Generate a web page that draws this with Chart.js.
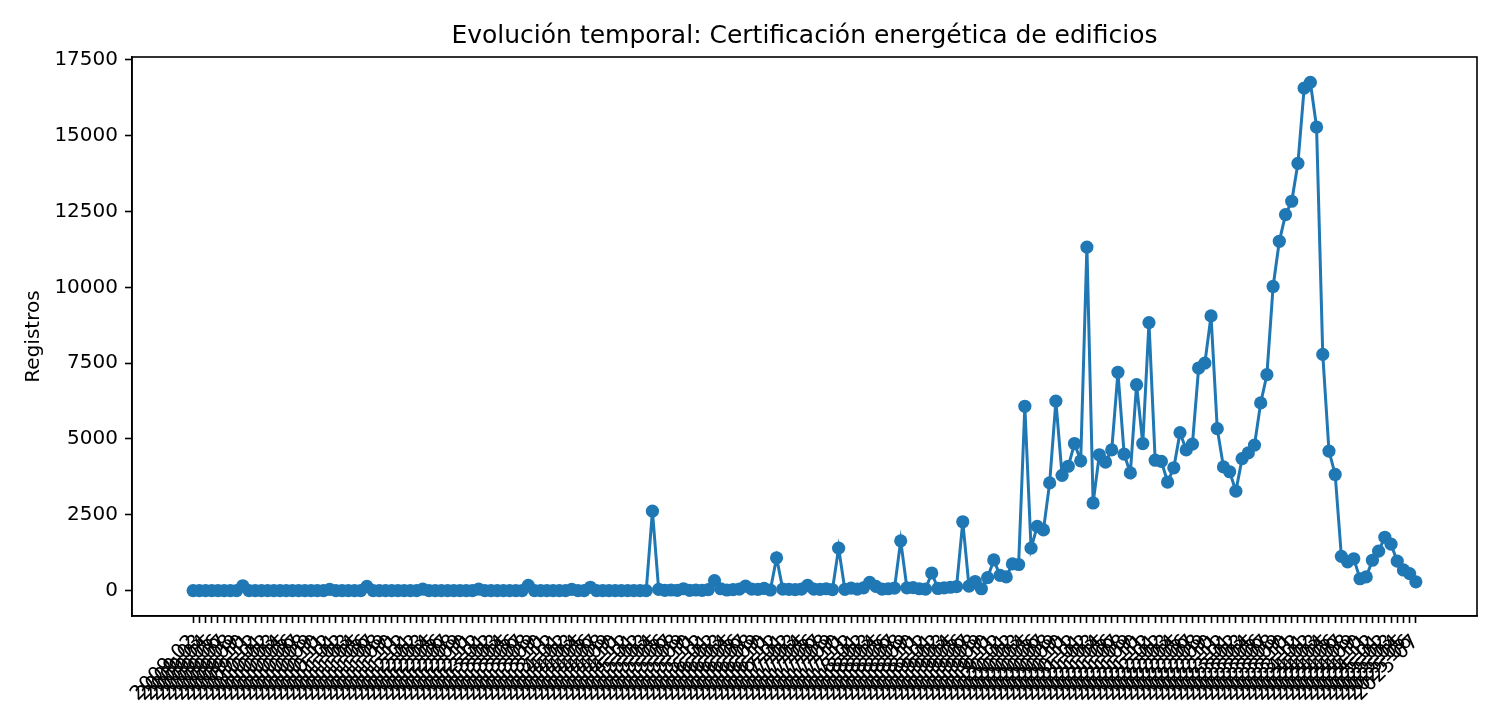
<!DOCTYPE html>
<html>
<head>
<meta charset="utf-8">
<script src="https://cdn.jsdelivr.net/npm/chart.js@4.4.1/dist/chart.umd.min.js"></script>
<style>
html,body{margin:0;padding:0;background:#ffffff;}
#wrap{width:1500px;height:720px;}
</style>
</head>
<body>
<div id="wrap"><canvas id="c" width="1500" height="720"></canvas></div>
<script>
const chartTitle = "Evolución temporal: Certificación energética de edificios";
const yAxisTitle = "Registros";

const periods = [
  "2009-02","2009-03","2009-04","2009-05","2009-06","2009-07","2009-08","2009-09","2009-10","2009-11","2009-12",
  "2010-01","2010-02","2010-03","2010-04","2010-05","2010-06","2010-07","2010-08","2010-09","2010-10","2010-11","2010-12",
  "2011-01","2011-02","2011-03","2011-04","2011-05","2011-06","2011-07","2011-08","2011-09","2011-10","2011-11","2011-12",
  "2012-01","2012-02","2012-03","2012-04","2012-05","2012-06","2012-07","2012-08","2012-09","2012-10","2012-11","2012-12",
  "2013-01","2013-02","2013-03","2013-04","2013-05","2013-06","2013-07","2013-08","2013-09","2013-10","2013-11","2013-12",
  "2014-01","2014-02","2014-03","2014-04","2014-05","2014-06","2014-07","2014-08","2014-09","2014-10","2014-11","2014-12",
  "2015-01","2015-02","2015-03","2015-04","2015-05","2015-06","2015-07","2015-08","2015-09","2015-10","2015-11","2015-12",
  "2016-01","2016-02","2016-03","2016-04","2016-05","2016-06","2016-07","2016-08","2016-09","2016-10","2016-11","2016-12",
  "2017-01","2017-02","2017-03","2017-04","2017-05","2017-06","2017-07","2017-08","2017-09","2017-10","2017-11","2017-12",
  "2018-01","2018-02","2018-03","2018-04","2018-05","2018-06","2018-07","2018-08","2018-09","2018-10","2018-11","2018-12",
  "2019-01","2019-02","2019-03","2019-04","2019-05","2019-06","2019-07","2019-08","2019-09","2019-10","2019-11","2019-12",
  "2020-01","2020-02","2020-03","2020-04","2020-05","2020-06","2020-07","2020-08","2020-09","2020-10","2020-11","2020-12",
  "2021-01","2021-02","2021-03","2021-04","2021-05","2021-06","2021-07","2021-08","2021-09","2021-10","2021-11","2021-12",
  "2022-01","2022-02","2022-03","2022-04","2022-05","2022-06","2022-07","2022-08","2022-09","2022-10","2022-11","2022-12",
  "2023-01","2023-02","2023-03","2023-04","2023-05","2023-06","2023-07","2023-08","2023-09","2023-10","2023-11","2023-12",
  "2024-01","2024-02","2024-03","2024-04","2024-05","2024-06","2024-07","2024-08","2024-09","2024-10","2024-11","2024-12",
  "2025-01","2025-02","2025-03","2025-04","2025-05","2025-06","2025-07"
];

const registros = [
  0,0,0,0,0,0,0,0,160,0,
  0,0,0,0,0,0,0,0,0,0,
  0,0,40,0,0,0,0,0,140,0,
  0,0,0,0,0,0,0,50,0,0,
  0,0,0,0,0,0,50,0,0,0,
  0,0,0,0,170,0,0,0,0,0,
  0,40,0,0,110,0,0,0,0,0,
  0,0,0,0,2620,40,10,20,10,60,
  10,20,10,30,330,60,20,30,50,150,
  50,40,70,20,1080,50,40,30,50,170,
  50,40,60,30,1400,40,80,50,90,270,
  140,50,60,80,1640,90,100,60,50,580,
  70,90,110,130,2270,150,300,60,430,1010,
  500,450,880,860,6080,1400,2120,2000,3550,6250,
  3800,4100,4850,4280,11330,2890,4480,4240,4640,7200,
  4500,3880,6790,4850,8840,4300,4260,3580,4050,5210,
  4640,4830,7340,7500,9060,5340,4080,3920,3280,4350,
  4540,4800,6190,7120,10030,11520,12400,12840,14090,16570,
  16760,15290,7790,4600,3830,1130,950,1050,390,450,
  1000,1300,1760,1530,970,680,560,290
];

const yTickValues = [0,2500,5000,7500,10000,12500,15000,17500];

const BLUE = "#1f77b4";
const FONT = "'DejaVu Sans', sans-serif";

// matplotlib-like 5% margins
const n = registros.length;
const xPad = (n - 1) * 0.05;
const yMaxData = Math.max(...registros), yMinData = Math.min(...registros);
const yPad = (yMaxData - yMinData) * 0.05;

const framePlugin = {
  id: "frame",
  afterDraw(chart) {
    const {ctx, chartArea: a} = chart;
    ctx.save();
    ctx.strokeStyle = "#000";
    ctx.lineWidth = 1.6;
    ctx.strokeRect(a.left, a.top, a.right - a.left, a.bottom - a.top);
    ctx.restore();
  }
};

new Chart(document.getElementById("c"), {
  type: "line",
  data: {
    datasets: [{
      data: registros.map((v, i) => ({x: i, y: v})),
      borderColor: BLUE,
      backgroundColor: BLUE,
      borderWidth: 3,
      pointRadius: 6.6,
      pointHoverRadius: 6.6,
      pointBorderWidth: 0,
      pointBackgroundColor: BLUE,
      tension: 0,
      fill: false,
      clip: false
    }]
  },
  options: {
    responsive: false,
    devicePixelRatio: 1,
    animation: false,
    layout: {padding: {left: 0, right: 23, top: 0, bottom: 0}},
    plugins: {
      legend: {display: false},
      tooltip: {enabled: false},
      title: {
        display: true,
        text: chartTitle,
        color: "#000",
        fullSize: false,
        font: {family: FONT, size: 25, weight: "normal"},
        padding: {top: 21, bottom: 6}
      }
    },
    scales: {
      x: {
        type: "linear",
        min: -xPad,
        max: (n - 1) + xPad,
        afterBuildTicks: s => { s.ticks = periods.map((p, i) => ({value: i})); },
        afterFit: s => { s.height = 104; },
        ticks: {
          autoSkip: false,
          minRotation: 45,
          maxRotation: 45,
          padding: 7,
          color: "#000",
          font: {family: FONT, size: 20},
          callback: v => periods[v]
        },
        grid: {display: true, drawOnChartArea: false, drawTicks: true, tickLength: 7, tickColor: "#000", tickWidth: 1.6},
        border: {display: true, color: "#000", width: 1.6}
      },
      y: {
        type: "linear",
        min: yMinData - yPad,
        max: yMaxData + yPad,
        afterBuildTicks: s => { s.ticks = yTickValues.map(v => ({value: v})); },
        afterFit: s => { s.width = 132; },
        ticks: {
          padding: 7,
          color: "#000",
          font: {family: FONT, size: 20},
          callback: v => String(v)
        },
        grid: {display: true, drawOnChartArea: false, drawTicks: true, tickLength: 7, tickColor: "#000", tickWidth: 1.6},
        border: {display: true, color: "#000", width: 1.6},
        title: {
          display: true,
          text: yAxisTitle,
          color: "#000",
          font: {family: FONT, size: 20},
          padding: {top: 22, bottom: 0}
        }
      }
    }
  },
  plugins: [framePlugin]
});
</script>
</body>
</html>
